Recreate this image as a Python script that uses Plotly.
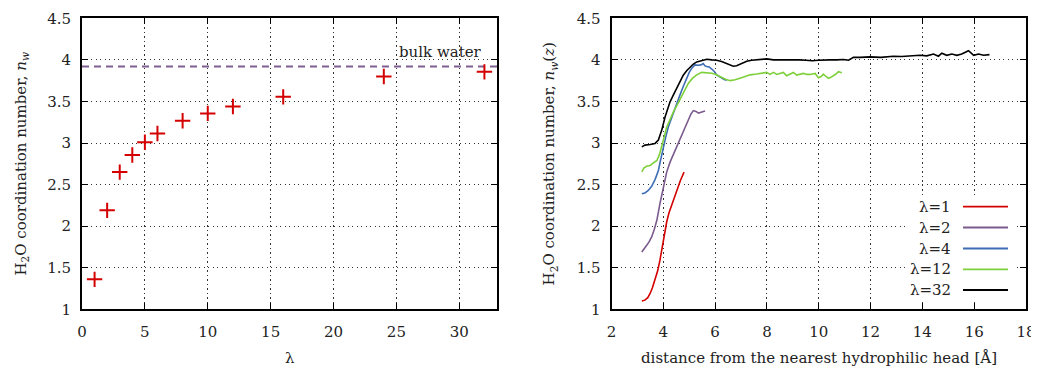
import plotly.graph_objects as go

# ---------------- data ----------------
# left panel: coordination number vs lambda
lam = [1, 2, 3, 4, 5, 6, 8, 10, 12, 16, 24, 32]
n_w = [1.36, 2.19, 2.65, 2.855, 3.01, 3.115, 3.267, 3.356, 3.44, 3.555, 3.80, 3.856]
bulk_water = 3.92
bulk_x = [0, 33]

# right panel: n_w(z) profiles
legend_lams = [1, 2, 4, 12, 32]

z_l1 = [3.17, 3.29, 3.40, 3.49, 3.58, 3.68, 3.78, 3.87, 4.0, 4.13, 4.22, 4.32, 4.42, 4.52, 4.66, 4.80]
n_l1 = [1.10, 1.11, 1.14, 1.19, 1.26, 1.35, 1.46, 1.59, 1.83, 2.05, 2.16, 2.25, 2.35, 2.45, 2.55, 2.65]

z_l2 = [3.17, 3.25, 3.36, 3.45, 3.55, 3.65, 3.75, 3.87, 4.0, 4.13, 4.26, 4.39, 4.52, 4.65, 4.77,
        4.87, 4.97, 5.07, 5.16, 5.26, 5.36, 5.46, 5.55, 5.61]
n_l2 = [1.69, 1.73, 1.77, 1.81, 1.87, 1.96, 2.07, 2.27, 2.47, 2.65, 2.77, 2.86, 2.95, 3.04, 3.12,
        3.20, 3.28, 3.35, 3.39, 3.38, 3.36, 3.37, 3.38, 3.385]

z_l4 = [3.17, 3.29, 3.42, 3.55, 3.68, 3.81, 3.87, 3.94, 4.0, 4.10, 4.19, 4.29, 4.39, 4.52, 4.64,
        4.77, 4.90, 5.0, 5.10, 5.22, 5.35, 5.45, 5.54, 5.60, 5.67, 5.77, 5.87, 5.97, 6.06, 6.15,
        6.25, 6.35, 6.45]
n_l4 = [2.39, 2.40, 2.43, 2.48, 2.56, 2.67, 2.76, 2.87, 2.96, 3.08, 3.19, 3.28, 3.375, 3.48, 3.576,
        3.68, 3.776, 3.85, 3.90, 3.94, 3.935, 3.94, 3.955, 3.93, 3.92, 3.915, 3.89, 3.86, 3.82, 3.80,
        3.78, 3.765, 3.755]

z_l12 = [3.17, 3.25, 3.35, 3.49, 3.62, 3.75, 3.85, 3.94, 4.03, 4.13, 4.26, 4.39, 4.52, 4.64, 4.80,
         4.97, 5.13, 5.29, 5.48, 5.67, 5.87, 6.03, 6.19, 6.38, 6.58, 6.77, 6.96, 7.15, 7.35, 7.60,
         7.86, 7.99, 8.12, 8.25, 8.38, 8.50, 8.63, 8.76, 8.89, 9.02, 9.15, 9.28, 9.41, 9.54, 9.66,
         9.86, 9.99, 10.09, 10.18, 10.28, 10.37, 10.47, 10.56, 10.66, 10.76, 10.82, 10.89]
n_l12 = [2.654, 2.70, 2.72, 2.73, 2.76, 2.79, 2.86, 2.95, 3.07, 3.19, 3.29, 3.375, 3.45, 3.52, 3.62,
         3.72, 3.78, 3.82, 3.85, 3.845, 3.84, 3.825, 3.80, 3.77, 3.75, 3.76, 3.78, 3.80, 3.82, 3.83,
         3.84, 3.849, 3.825, 3.849, 3.825, 3.84, 3.849, 3.81, 3.83, 3.849, 3.817, 3.83, 3.837, 3.825, 3.825,
         3.837, 3.786, 3.80, 3.829, 3.80, 3.778, 3.79, 3.805, 3.83, 3.857, 3.85, 3.845]

z_l32 = [3.17, 3.29, 3.49, 3.68, 3.81, 3.94, 4.07, 4.16, 4.26, 4.39, 4.52, 4.64, 4.77, 4.90, 5.03,
         5.16, 5.29, 5.48, 5.68, 5.87, 6.06, 6.25, 6.45, 6.58, 6.70, 6.83, 6.96, 7.09, 7.22, 7.41,
         7.61, 7.80, 7.99, 8.25, 8.50, 8.75, 9.0, 9.25, 9.5, 9.75, 9.99, 10.2, 10.43, 10.7, 10.95,
         11.15, 11.34, 11.6, 11.98, 12.4, 12.88, 13.2, 13.53, 13.91, 14.17, 14.43, 14.62, 14.75, 14.94, 15.14,
         15.33, 15.52, 15.78, 15.98, 16.17, 16.36, 16.59]
n_l32 = [2.954, 2.975, 2.983, 2.995, 3.035, 3.155, 3.315, 3.41, 3.495, 3.58, 3.656, 3.74, 3.816, 3.87, 3.916,
         3.95, 3.976, 3.99, 4.008, 4.0, 3.996, 3.98, 3.957, 3.94, 3.924, 3.93, 3.948, 3.968, 3.984, 3.995,
         4.0, 4.008, 4.012, 4.0, 4.0, 4.005, 4.0, 4.0, 3.995, 3.99, 3.996, 4.0, 4.0, 4.0, 4.004,
         3.996, 4.03, 4.03, 4.036, 4.03, 4.044, 4.04, 4.048, 4.055, 4.048, 4.07, 4.044, 4.08, 4.055, 4.07,
         4.055, 4.07, 4.11, 4.055, 4.07, 4.055, 4.063]

series_z = [z_l1, z_l2, z_l4, z_l12, z_l32]
series_n = [n_l1, n_l2, n_l4, n_l12, n_l32]
colors = ["#d40000", "#7b5a8e", "#3f6db5", "#7ed03a", "#000000"]

x_title_left = "λ"
x_title_right = "distance from the nearest hydrophilic head [Å]"

# ---------------- figure ----------------
OFF = 8                       # page body margin
W, H = 1039 - OFF, 369 - OFF  # figure fills the rest of the window
FONT = "DejaVu Serif"
TXT = "#222222"


def px(x):
    return (x - OFF) / W


def py(y):
    return 1 - (y - OFF) / H


fig = go.Figure()

fig.add_trace(go.Scatter(
    x=bulk_x, y=[bulk_water, bulk_water], mode="lines",
    line=dict(color="#7f5f92", width=1.8, dash="7px,5px"),
    xaxis="x", yaxis="y", showlegend=False, hoverinfo="skip"))

fig.add_trace(go.Scatter(
    x=lam, y=n_w, mode="markers",
    marker=dict(symbol="cross-thin", size=11, line=dict(color="#d40000", width=2)),
    xaxis="x", yaxis="y", showlegend=False))

for zz, nn, c, l in zip(series_z, series_n, colors, legend_lams):
    fig.add_trace(go.Scatter(
        x=zz, y=nn, mode="lines", line=dict(color=c, width=1.6),
        name=f"λ={l}", xaxis="x2", yaxis="y2", showlegend=False))

axis_common = dict(
    showline=True, linecolor="black", linewidth=2, mirror="allticks",
    ticks="inside", ticklen=6, tickwidth=1.3, tickcolor="black",
    showgrid=True, gridcolor="#333333", gridwidth=1, griddash="1.3px,3.2px",
    zeroline=False, automargin=False,
    tickfont=dict(family=FONT, size=15, color=TXT),
)

ydom = [py(309.3), py(18.3)]
title_font = dict(family=FONT, size=15, color=TXT)

fig.update_layout(
    width=W, height=H,
    margin=dict(l=0, r=0, t=0, b=0, autoexpand=False),
    paper_bgcolor="white", plot_bgcolor="white",
    showlegend=False,
    font=dict(family=FONT, size=15, color=TXT),
    xaxis=dict(axis_common, domain=[px(82), px(497)], range=[0, 33], dtick=5, tick0=0,
               anchor="y", ticklabelstandoff=8),
    yaxis=dict(axis_common, domain=ydom, range=[1, 4.5], dtick=0.5, tick0=1,
               anchor="x", ticklabelstandoff=6,
               title=dict(text="H<sub>2</sub>O coordination number, <i>n<sub>w</sub></i>",
                          font=title_font, standoff=17)),
    xaxis2=dict(axis_common, domain=[px(611.5), px(1026)], range=[2, 18], dtick=2, tick0=2,
                anchor="y2", ticklabelstandoff=8),
    yaxis2=dict(axis_common, domain=ydom, range=[1, 4.5], dtick=0.5, tick0=1,
                anchor="x2", ticklabelstandoff=6,
                title=dict(text="H<sub>2</sub>O coordination number, <i>n<sub>w</sub></i>(<i>z</i>)",
                           font=title_font, standoff=18)),
)

# x-axis titles, low near the bottom edge as in the original
fig.add_annotation(x=px(289.5), y=py(357.5), xref="paper", yref="paper", text=x_title_left,
                   showarrow=False, xanchor="center", yanchor="middle", font=title_font)
fig.add_annotation(x=px(818.5), y=py(357.5), xref="paper", yref="paper", text=x_title_right,
                   showarrow=False, xanchor="center", yanchor="middle", font=title_font)

fig.add_annotation(x=32, y=4.1, xref="x", yref="y", text="bulk water", showarrow=False,
                   xanchor="right", yanchor="middle", font=title_font)

# key (gnuplot style: label then line sample)
fig.add_shape(type="rect", xref="paper", yref="paper",
              x0=px(909), x1=px(1016), y0=py(301), y1=py(197),
              fillcolor="white", line=dict(width=0), layer="above")
row_y = [206.7, 227.5, 248.5, 269.3, 290.0]
for ry, c, l in zip(row_y, colors, legend_lams):
    yp = py(ry)
    fig.add_annotation(x=px(953), y=yp, xref="paper", yref="paper", text=f"λ={l}",
                       showarrow=False, xanchor="right", yanchor="middle", font=title_font)
    fig.add_shape(type="line", xref="paper", yref="paper", x0=px(963), x1=px(1008),
                  y0=yp, y1=yp, line=dict(color=c, width=1.8), layer="above")

fig.write_html("out.html")
